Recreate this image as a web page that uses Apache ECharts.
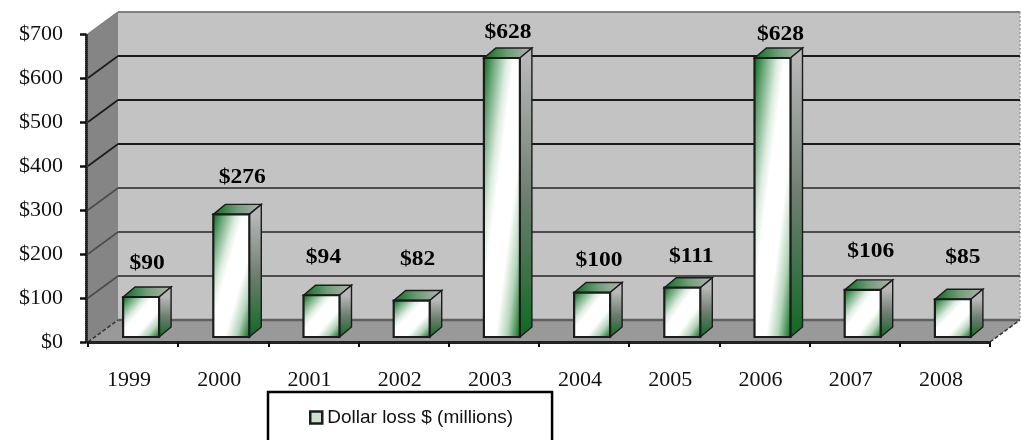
<!DOCTYPE html>
<html><head><meta charset="utf-8">
<style>html,body{margin:0;padding:0;background:#fff}#c{width:1021px;height:440px}</style>
<script src="https://cdn.jsdelivr.net/npm/echarts@6/dist/echarts.min.js"></script>
</head><body><div id="c"></div>
<script>
const categories = ['1999','2000','2001','2002','2003','2004','2005','2006','2007','2008'];
const values = [90,276,94,82,628,100,111,628,106,85];
const seriesName = 'Dollar loss $ (millions)';
// manual label placement of the original, in px relative to each bar's top front edge
const labelShiftX = [6,11,2,6,6,7,9,8,8,10];
const labelShiftY = [33,37,38,41,25,32,31,23,38,42];

const G = '#0a6e1e', W = '#ffffff';
const wallDepthX = 30, wallDepthY = 22, barDepthX = 12, barDepthY = 10, barW = 36, barShift = 8;

function grad(x,y,w,h){
  const L = Math.hypot(w,h), ux=h/L, uy=w/L, d=w*h/L, cx=x+w/2, cy=y+h/2;
  return new echarts.graphic.LinearGradient(cx-ux*d,cy-uy*d,cx+ux*d,cy+uy*d,
    [{offset:0,color:G},{offset:.14,color:'#6aa878'},{offset:.32,color:'#dcebdf'},{offset:.42,color:W},{offset:.66,color:W},{offset:.82,color:'#b4d4ba'},{offset:1,color:G}],true);
}

function renderWalls(params, api){
  if (params.dataIndex !== 0) return;
  const c = params.coordSys, x0=c.x, x1=c.x+c.width, yT=c.y, yB=c.y+c.height;
  const dx=wallDepthX, dy=wallDepthY, kids=[];
  const poly=(pts,fill,stroke,lw)=>kids.push({type:'polygon',shape:{points:pts},style:{fill:fill,stroke:stroke||null,lineWidth:lw||0}});
  const line=(a,b,col,lw,dash)=>kids.push({type:'line',shape:{x1:a[0],y1:a[1],x2:b[0],y2:b[1]},style:{stroke:col,lineWidth:lw,lineDash:dash||null}});
  poly([[x0+dx,yT-dy],[x1+dx,yT-dy],[x1+dx,yB-dy],[x0+dx,yB-dy]],'#c3c3c3');
  poly([[x0,yT],[x0+dx,yT-dy],[x0+dx,yB-dy],[x0,yB]],'#858585');
  poly([[x0,yB],[x0+dx,yB-dy],[x1+dx,yB-dy],[x1,yB]],'#999999');
  line([x0,yT],[x0+dx,yT-dy],'#808080',1.5);
  line([x0+dx,yT-dy],[x1+dx,yT-dy],'#808080',2);
  line([x1+dx,yT-dy],[x1+dx,yB-dy],'#9a9a9a',1.5,[2,2]);
  line([x0+dx,yB-dy],[x1+dx,yB-dy],'#606060',2.5);
  line([x0,yB],[x0+dx,yB-dy],'#333',1.5,[4,2]);
  line([x1,yB],[x1+dx,yB-dy],'#333',1.5,[4,2]);
  line([x0,yB],[x1,yB],'#777',1.5);
  for(let v=100;v<700;v+=100){
    const y=api.coord([0,v])[1], col=v>=400?'#1a1a1a':'#4d4d4d';
    line([x0,y],[x0+dx,y-dy],col,1.6);
    line([x0+dx,y-dy],[x1+dx,y-dy],col,2.2);
  }
  return {type:'group',children:kids};
}

function renderBar(params, api){
  const i=api.value(0), v=api.value(1);
  const top=api.coord([i,v]), base=api.coord([i,0]);
  const x=top[0]+barShift-barW/2, y=top[1], h=base[1]-top[1], w=barW, dx=barDepthX, dy=barDepthY;
  const edge='#1c1c1c';
  const gTop=new echarts.graphic.LinearGradient(x,y,x+w+dx,y,[{offset:0,color:G},{offset:.5,color:'#6f9d78'},{offset:1,color:'#b4b4b4'}],true);
  const gSide=new echarts.graphic.LinearGradient(x+w,y,x+w,y+h,
     [{offset:0,color:'#b8b8b8'},{offset:.5,color:'#6d7d70'},{offset:1,color:'#0f6a22'}],true);
  return {type:'group',children:[
    {type:'polygon',shape:{points:[[x,y],[x+dx,y-dy],[x+w+dx,y-dy],[x+w,y]]},style:{fill:gTop,stroke:edge,lineWidth:1.4}},
    {type:'polygon',shape:{points:[[x+w,y],[x+w+dx,y-dy],[x+w+dx,y+h-dy],[x+w,y+h]]},style:{fill:gSide,stroke:edge,lineWidth:1.4}},
    {type:'rect',shape:{x:x,y:y,width:w,height:h},style:{fill:grad(x,y,w,h),stroke:edge,lineWidth:2.2}},
    {type:'text',x:x+w/2+labelShiftX[i],y:y-labelShiftY[params.dataIndex],scaleX:1.12,
      style:{x:0,y:0,text:'$'+v,font:'bold 21px "Liberation Serif"',fill:'#000',align:'center',verticalAlign:'middle'}}
  ]};
}

const chart = echarts.init(document.getElementById('c'),null,{renderer:'canvas'});
chart.setOption({
  animation:false,
  backgroundColor:'#fff',
  grid:[
    {left:88,right:31,top:34,bottom:98},
    {left:88,right:31,top:26,bottom:103}
  ],
  xAxis:[
    {type:'category',data:categories,gridIndex:0,offset:3,z:5,
     axisLine:{lineStyle:{color:'#222',width:3,type:[1,1]}},
     axisTick:{show:true,alignWithLabel:false,length:5,lineStyle:{color:'#111',width:2}},
     axisLabel:{color:'#111',fontFamily:'Liberation Serif',fontSize:22,margin:24,interval:0,padding:[0,8,0,0]}},
    {type:'category',data:categories,gridIndex:1,show:false}
  ],
  yAxis:[
    {type:'value',min:0,max:700,interval:100,gridIndex:0,offset:2,z:5,
     splitLine:{show:false},
     axisLine:{show:true,lineStyle:{color:'#222',width:3,type:[1,1]}},
     axisTick:{show:true,length:6,lineStyle:{color:'#111',width:2.5}},
     axisLabel:{color:'#111',fontFamily:'Liberation Serif',fontSize:22,margin:23,formatter:v=>'$'+v}},
    {type:'value',min:0,max:700,gridIndex:1,show:false}
  ],
  legend:{
    left:268,top:392,orient:'horizontal',
    padding:[16,39,40,41],itemGap:0,itemWidth:12,itemHeight:12,
    backgroundColor:'#fff',borderColor:'#000',borderWidth:2.5,borderRadius:0,
    data:[{name:seriesName,icon:'rect',itemStyle:{color:'#cfe0d3',borderColor:'#1c1c1c',borderWidth:2.5}}],
    textStyle:{fontFamily:'Liberation Sans',fontSize:19,color:'#111'}
  },
  series:[
    {type:'custom',name:'walls',xAxisIndex:0,yAxisIndex:0,z:1,silent:true,clip:false,
     data:[[0,0]],renderItem:renderWalls,encode:{x:0,y:1}},
    {type:'custom',name:seriesName,xAxisIndex:1,yAxisIndex:1,z:3,clip:false,
     data:values.map((v,i)=>[i,v]),renderItem:renderBar,encode:{x:0,y:1},
     itemStyle:{color:'#dfeee2'}}
  ]
});
</script></body></html>
